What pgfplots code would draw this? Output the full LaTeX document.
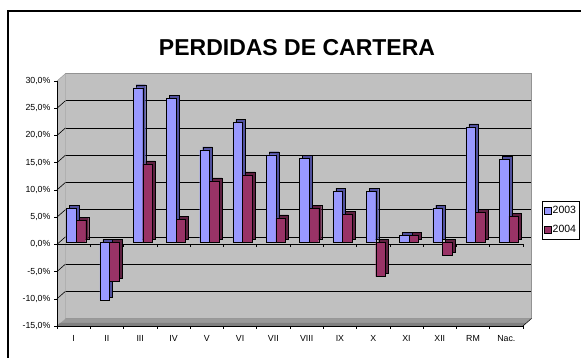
\documentclass[border=0pt]{standalone}
\usepackage{pgfplots}
\pgfplotsset{compat=1.18}
\usepackage{pgfplotstable}
\usepackage{fontspec}
\setmainfont{Liberation Sans}
\definecolor{wall}{HTML}{C0C0C0}
\definecolor{floorc}{HTML}{9A9A9A}
\definecolor{floordark}{HTML}{808080}
\definecolor{sA}{HTML}{9999FF}
\definecolor{sAd}{HTML}{50509E}
\definecolor{sB}{HTML}{993366}
\definecolor{sBd}{HTML}{5E2040}

\pgfplotstableread{
x y3 y4
0 6.3 4.0
1 -10.6 -7.2
2 28.4 14.4
3 26.4 4.2
4 17.0 11.3
5 22.0 12.4
6 16.1 4.5
7 15.4 6.2
8 9.4 5.2
9 9.4 -6.3
10 1.3 1.3
11 6.3 -2.4
12 21.2 5.5
13 15.3 4.8
}\data

\begin{document}
\begin{tikzpicture}[x=1pt,y=1pt]
\useasboundingbox (0,0) rectangle (581,358);
% frame
\draw[line width=2pt] (7.7,0) -- (7.7,347) -- (581,347);
% title
\node[font=\bfseries\fontsize{23}{26}\selectfont] at (297,310.5) {PERDIDAS DE CARTERA};

% back wall
\begin{axis}[
  at={(65.5pt,39.5pt)}, anchor=south west,
  width=466pt, height=245pt, scale only axis,
  xmin=-0.5, xmax=13.5, ymin=-15, ymax=30,
  axis background/.style={fill=wall},
  axis line style={draw=gray!85},
  xtick=\empty, ytick={-15,-10,...,30}, yticklabels={},
  major tick length=0pt,
  ymajorgrids, grid style={black, line width=0.6pt},
]
\end{axis}

% left side wall
\fill[wall] (57,32) -- (65.5,39.5) -- (65.5,284.5) -- (57,277) -- cycle;
\foreach \v in {-10,-5,0,5,10,15,20,25} {
  \draw[black, line width=0.6pt] (57,{32+(\v+15)*245/45}) -- ++(8.5,7.5);
}
\draw[gray!85] (57,277) -- (65.5,284.5);
% floor
\fill[floorc] (57,32) -- (523,32) -- (531.5,39.5) -- (65.5,39.5) -- cycle;
\fill[floordark] (57,32) -- (523,32) -- (526,35) -- (60,35) -- cycle;
\draw[black, line width=0.5pt] (523,32) -- (531.5,39.5);

% front axis with bars
\begin{axis}[
  at={(57pt,32pt)}, anchor=south west,
  width=466pt, height=245pt, scale only axis,
  xmin=-0.5, xmax=13.5, ymin=-15, ymax=30,
  clip=false,
  axis lines=left, axis line style={-, black, line width=0.6pt},
  xtick={0,...,13},
  xticklabels={I,II,III,IV,V,VI,VII,VIII,IX,X,XI,XII,RM,Nac.},
  minor xtick={-0.5,0.5,...,13.5},
  major x tick style={draw=none},
  minor x tick style={black, line width=0.5pt},
  minor tick length=3pt,
  ytick={-15,-10,...,30},
  yticklabels={{-15,0\%},{-10,0\%},{-5,0\%},{0,0\%},{5,0\%},{10,0\%},{15,0\%},{20,0\%},{25,0\%},{30,0\%}},
  y tick style={black, line width=0.5pt},
  major tick length=3pt,
  tick align=outside,
  ticklabel style={font=\fontsize{8.8}{10}\selectfont},
  xticklabel style={yshift=-3pt},
  legend image code/.code={\draw[#1] (0pt,-3.5pt) rectangle (7pt,3.5pt);},
  legend style={at={(1.0408,0.511)}, anchor=north west, draw=black,
    line width=0.5pt, fill=white, font=\fontsize{10.5}{12}\selectfont,
    inner xsep=2pt, inner ysep=4pt, row sep=8.5pt, nodes={inner sep=1pt}},
]
% zero line with ticks (behind bars)
\draw[black, line width=0.5pt] (axis cs:-0.5,0) -- (axis cs:13.5,0);
\pgfplotsinvokeforeach{-0.5,0.5,1.5,2.5,3.5,4.5,5.5,6.5,7.5,8.5,9.5,10.5,11.5,12.5,13.5}{
  \draw[black, line width=0.5pt] (axis cs:#1,0) -- (axis cs:#1,-0.55);
}
\addplot[ybar, bar width=9.6pt, bar shift=-4.8pt, fill=sAd, draw=black, line width=0.3pt, xshift=5.5pt, yshift=5pt, forget plot] table[x=x,y=y3]{\data};
\addplot[ybar, bar width=9.6pt, bar shift=-4.8pt, fill=sA, draw=black, line width=0.3pt, xshift=2.5pt, yshift=2pt, forget plot] table[x=x,y=y3]{\data};
\addplot[ybar, bar width=9.6pt, bar shift=4.8pt, fill=sBd, draw=black, line width=0.3pt, xshift=5.5pt, yshift=5pt, forget plot] table[x=x,y=y4]{\data};
\addplot[ybar, bar width=9.6pt, bar shift=4.8pt, fill=sB, draw=black, line width=0.3pt, xshift=2.5pt, yshift=2pt, forget plot] table[x=x,y=y4]{\data};
\addlegendimage{fill=sA, draw=black, line width=0.4pt}
\addlegendentry{2003}
\addlegendimage{fill=sB, draw=black, line width=0.4pt}
\addlegendentry{2004}
\end{axis}
\end{tikzpicture}
\end{document}
